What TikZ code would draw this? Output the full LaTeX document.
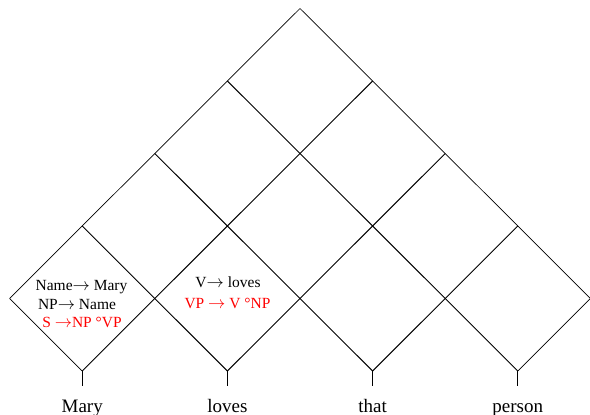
\documentclass[tikz,border=0pt]{standalone}
\usepackage{fontspec}
\setmainfont{Liberation Serif}
\usetikzlibrary{calc}
\newcommand{\arr}{{\fontsize{17}{17}\selectfont$\rightarrow$}}
\begin{document}
\begin{tikzpicture}[x=1pt,y=-1pt,
  outer/.style={line width=0.7pt},
  inner/.style={line width=0.95pt},
  rule/.style={font=\fontsize{15.5}{18}\selectfont,inner sep=0pt,anchor=base},
  word/.style={font=\fontsize{19}{22}\selectfont,inner sep=0pt,anchor=base}]
\useasboundingbox (0,0) rectangle (590,415);
\coordinate (A) at (300,8.5);
\foreach \k/\e/\s in {0/4/outer,1/4/inner,2/3/inner,3/2/inner,4/1/outer} {
  \draw[\s] ($(A)+\k*(-72.6,72.5)$) -- ($(A)+\k*(-72.6,72.5)+\e*(72.6,72.5)$);
  \draw[\s] ($(A)+\k*(72.6,72.5)$) -- ($(A)+\k*(72.6,72.5)+\e*(-72.6,72.5)$);
}
\foreach \i/\w in {0/Mary,1/loves,2/that,3/person} {
  \coordinate (b\i) at ($(A)+4*(-72.6,72.5)+\i*(145.2,0)+(72.6,72.5)$);
  \coordinate (s\i) at ($(b\i)+(0,15)$);
  \node[word] (w\i) at ($(b\i)+(0,41)$) {\w};
  \draw[outer] (b\i) -- (s\i);
}
\node[rule] (r0a) at (81.5,290) {Name\arr\ Mary};
\node[rule] (r0b) at (77,309) {NP\arr\ Name};
\node[rule,text=red] (r0c) at (82,327.5) {S \arr NP °VP};
\node[rule] (r1a) at (228,287) {V\arr\ loves};
\node[rule,text=red] (r1b) at (227.5,308) {VP \arr\ V °NP};
\end{tikzpicture}
\end{document}
